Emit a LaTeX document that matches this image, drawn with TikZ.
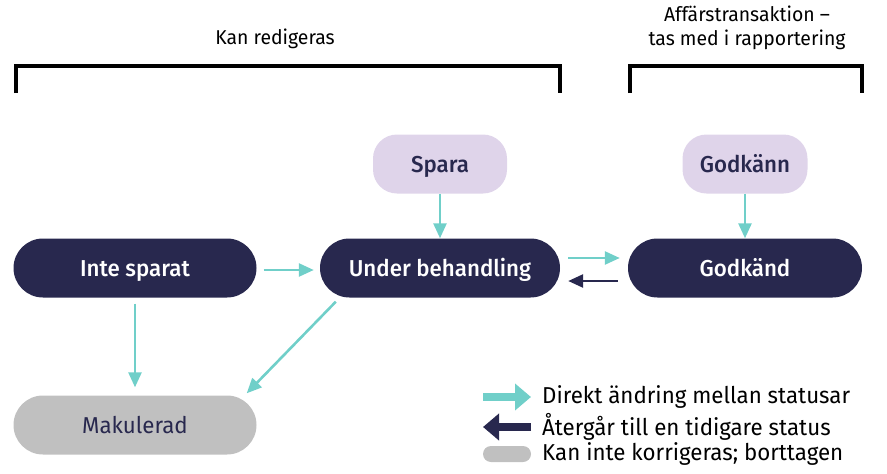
\documentclass[tikz,border=0pt]{standalone}
\usepackage{fontspec}
\setmainfont{Fira Sans}[FakeStretch=0.97, BoldFont={Fira Sans Medium}, BoldFeatures={FakeStretch=0.97}]
\usetikzlibrary{arrows.meta,calc}
\definecolor{navy}{HTML}{28284E}
\definecolor{teal}{HTML}{70CFC9}
\definecolor{lilac}{HTML}{DFD4EA}
\definecolor{greyb}{HTML}{C0C0C0}
\begin{document}
\begin{tikzpicture}[x=1pt,y=-1pt,
  stat/.style={rectangle, rounded corners=29.5pt, minimum width=243pt, minimum height=59pt, inner sep=0pt, text height=17pt, text depth=1pt, font=\fontsize{23}{27}\selectfont\bfseries},
  darkstat/.style={stat, fill=navy, text=white},
  actbox/.style={rectangle, rounded corners=24pt, minimum width=134pt, minimum height=59pt, inner sep=0pt, text height=17pt, text depth=1pt, fill=lilac, text=navy, font=\fontsize{23}{27}\selectfont\bfseries},
  conn/.style={draw=teal, line width=2.6pt, -{Triangle[width=13pt,length=15pt]}},
  back/.style={draw=navy, line width=2.6pt, -{Triangle[width=13pt,length=15pt]}},
  brack/.style={draw=black, line width=4pt},
  lbl/.style={font=\fontsize{20}{24}\selectfont, text=black, align=center},
  legtxt/.style={font=\fontsize{23}{27}\selectfont, text=black, anchor=west, inner sep=0pt},
]
\useasboundingbox (0,0) rectangle (887,474);

% brackets
\coordinate (b1a) at (16,93); \coordinate (b1b) at (16,66); \coordinate (b1c) at (560,66); \coordinate (b1d) at (560,93);
\draw[brack] (b1a) -- (b1b) -- (b1c) -- (b1d);
\coordinate (b2a) at (630,93); \coordinate (b2b) at (630,66); \coordinate (b2c) at (862,66); \coordinate (b2d) at (862,93);
\draw[brack] (b2a) -- (b2b) -- (b2c) -- (b2d);
\node[lbl] (l1) at (275,39) {Kan redigeras};
\node[lbl] (l2) at (747,28) {Affärstransaktion –\\tas med i rapportering};

% nodes
\node[darkstat] (inte) at (135,268) {Inte sparat};
\node[darkstat, minimum width=240pt] (ub) at (440,268) {Under behandling};
\node[darkstat, minimum width=234pt] (god) at (745,268) {Godkänd};
\node[stat, fill=greyb, text=navy, font=\fontsize{23}{27}\selectfont] (mak) at (135,425) {Makulerad};
\node[actbox] (spara) at (440,164) {Spara};
\node[actbox, minimum width=125pt] (godk) at (745,164) {Godkänn};

% connectors
\draw[conn] (spara.south) -- (ub.north);
\draw[conn] (godk.south) -- (god.north);
\draw[conn, shorten <=7pt, shorten >=6pt] ([yshift=-2pt]inte.east) -- ([yshift=-2pt]ub.west);
\draw[conn, shorten <=8pt, shorten >=8pt] ([yshift=10pt]ub.east) -- ([yshift=10pt]god.west);
\draw[back, shorten <=10pt, shorten >=8pt] ([yshift=-13pt]god.west) -- ([yshift=-13pt]ub.east);
\draw[conn, shorten <=6pt, shorten >=8pt] (inte.south) -- (mak.north);
\coordinate (d1) at ($(ub.south west)+(16,4)$);
\coordinate (d2) at ($(mak.north east)+(-10,-2)$);
\draw[conn] (d1) -- (d2);

% legend
\coordinate (la1) at (483,397); \coordinate (la2) at (531,397);
\draw[draw=teal, line width=8pt, -{Triangle[width=26pt,length=16pt]}] (la1) -- (la2);
\node[legtxt] (t1) at (542,397) {Direkt ändring mellan statusar};
\coordinate (lb1) at (531,427); \coordinate (lb2) at (483,427);
\draw[draw=navy, line width=8pt, -{Triangle[width=26pt,length=16pt]}] (lb1) -- (lb2);
\node[legtxt] (t2) at (542,427) {Återgår till en tidigare status};
\node[rectangle, rounded corners=8pt, fill=greyb, minimum width=48pt, minimum height=16pt, inner sep=0pt] (lc) at (507,454) {};
\node[legtxt] (t3) at (542,454) {Kan inte korrigeras; borttagen};
\end{tikzpicture}
\end{document}
